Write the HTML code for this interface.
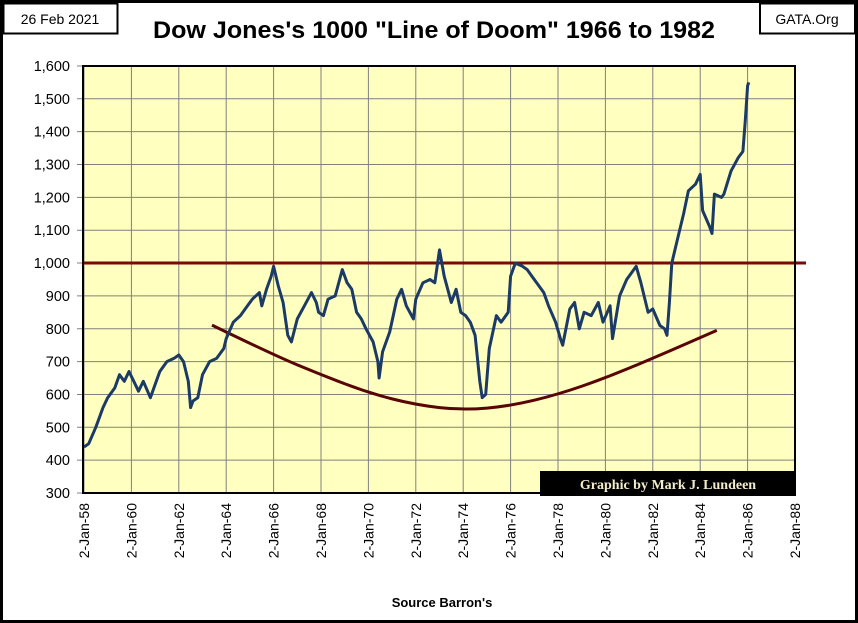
<!DOCTYPE html>
<html><head><meta charset="utf-8"><style>html,body{margin:0;padding:0;background:#fff}svg{display:block}</style></head>
<body>
<svg id="chart" width="858" height="623" xmlns="http://www.w3.org/2000/svg" font-family="Liberation Sans, sans-serif">
<rect x="1.5" y="1.5" width="855" height="620" fill="#fff" stroke="#000" stroke-width="3"/>
<rect x="83" y="66" width="712" height="427" fill="#ffffc0"/>
<g id="grid"></g>
<g id="ylabels" font-size="14.5" text-anchor="end" fill="#000"></g>
<g id="xlabels" font-size="14" fill="#000"></g>
<line x1="83" y1="263" x2="806" y2="263" stroke="#7a0a0a" stroke-width="3"/>
<path id="curve" fill="none" stroke="#5a0505" stroke-width="3"/>
<polyline id="dow" fill="none" stroke="#1b3a66" stroke-width="3" stroke-linejoin="round"/>
<rect x="83" y="66" width="712" height="427" fill="none" stroke="#000" stroke-width="2"/>
<rect x="540" y="471" width="256" height="25" fill="#000"/>
<text x="668" y="489" font-family="Liberation Serif, serif" font-weight="bold" font-size="14" fill="#f3eccb" text-anchor="middle">Graphic by Mark J. Lundeen</text>
<rect x="3.5" y="3.5" width="114" height="30" fill="#fff" stroke="#000" stroke-width="2"/>
<text x="60" y="24" font-size="14" text-anchor="middle">26 Feb 2021</text>
<rect x="760" y="3.5" width="95" height="30" fill="#fff" stroke="#000" stroke-width="2"/>
<text x="807" y="24" font-size="14" text-anchor="middle">GATA.Org</text>
<text x="434" y="38" font-size="24" font-weight="bold" text-anchor="middle" textLength="562" lengthAdjust="spacingAndGlyphs">Dow Jones's 1000 "Line of Doom" 1966 to 1982</text>
<text x="442" y="607" font-size="13" font-weight="bold" text-anchor="middle">Source Barron's</text>
</svg>
<script>
const yTicks=[300,400,500,600,700,800,900,1000,1100,1200,1300,1400,1500,1600];
const yTickLabels=["300","400","500","600","700","800","900","1,000","1,100","1,200","1,300","1,400","1,500","1,600"];
const xTicks=[1958,1960,1962,1964,1966,1968,1970,1972,1974,1976,1978,1980,1982,1984,1986,1988];
const xTickLabels=["2-Jan-58","2-Jan-60","2-Jan-62","2-Jan-64","2-Jan-66","2-Jan-68","2-Jan-70","2-Jan-72","2-Jan-74","2-Jan-76","2-Jan-78","2-Jan-80","2-Jan-82","2-Jan-84","2-Jan-86","2-Jan-88"];
const dowYears=[1958.0,1958.2,1958.5,1958.8,1959.0,1959.3,1959.5,1959.7,1959.9,1960.1,1960.3,1960.5,1960.8,1960.9,1961.2,1961.5,1961.8,1962.0,1962.2,1962.4,1962.5,1962.6,1962.8,1963.0,1963.3,1963.6,1963.9,1964.0,1964.3,1964.6,1964.9,1965.1,1965.4,1965.5,1965.7,1965.9,1966.0,1966.2,1966.4,1966.6,1966.75,1967.0,1967.3,1967.6,1967.8,1967.9,1968.1,1968.3,1968.6,1968.9,1969.1,1969.3,1969.5,1969.7,1969.9,1970.2,1970.4,1970.45,1970.6,1970.9,1971.2,1971.4,1971.6,1971.9,1972.0,1972.3,1972.6,1972.8,1973.0,1973.2,1973.5,1973.7,1973.9,1974.1,1974.3,1974.5,1974.7,1974.8,1974.95,1975.1,1975.4,1975.6,1975.9,1976.0,1976.2,1976.5,1976.7,1976.9,1977.2,1977.4,1977.6,1977.9,1978.1,1978.2,1978.5,1978.7,1978.9,1979.1,1979.4,1979.7,1979.9,1980.2,1980.3,1980.6,1980.9,1981.1,1981.3,1981.5,1981.8,1982.0,1982.3,1982.5,1982.6,1982.7,1982.8,1983.0,1983.3,1983.5,1983.8,1984.0,1984.1,1984.4,1984.5,1984.6,1984.9,1985.0,1985.3,1985.6,1985.8,1985.9,1986.0,1986.05];
const dowValues=[440,450,500,560,590,620,660,640,670,640,610,640,590,610,670,700,710,720,700,640,560,580,590,660,700,710,740,770,820,840,870,890,910,870,920,960,990,930,880,780,760,830,870,910,880,850,840,890,900,980,940,920,850,830,800,760,700,650,730,790,890,920,870,830,890,940,950,940,1040,960,880,920,850,840,820,780,640,590,600,740,840,820,850,960,1000,990,980,960,930,910,870,820,770,750,860,880,800,850,840,880,820,870,770,900,950,970,990,940,850,860,810,800,780,880,1000,1060,1150,1220,1240,1270,1160,1110,1090,1210,1200,1210,1280,1320,1340,1430,1540,1550];
const curveYears=[1963.4,1966,1968,1970,1972,1974,1976,1978,1980,1982,1984.7];
const curveValues=[811,720,660,605,568,552,565,600,650,710,795];
const NS='http://www.w3.org/2000/svg';
function xs(yr){return 84+(yr-1958)*23.7;}
function ys(v){return 493-(v-300)*32.85/100;}
const grid=document.getElementById('grid'),yl=document.getElementById('ylabels'),xl=document.getElementById('xlabels');
yTicks.forEach((v,i)=>{
  const l=document.createElementNS(NS,'line');
  l.setAttribute('x1',77);l.setAttribute('x2',795);l.setAttribute('y1',ys(v));l.setAttribute('y2',ys(v));
  l.setAttribute('stroke','#808080');l.setAttribute('stroke-width',1);
  
  
  grid.appendChild(l);
  const t=document.createElementNS(NS,'text');
  t.setAttribute('x',70);t.setAttribute('y',ys(v)+5);t.textContent=yTickLabels[i];
  
  
  yl.appendChild(t);
});
xTicks.forEach((yr,i)=>{
  const l=document.createElementNS(NS,'line');
  l.setAttribute('x1',xs(yr));l.setAttribute('x2',xs(yr));l.setAttribute('y1',66);l.setAttribute('y2',493);
  l.setAttribute('stroke','#808080');l.setAttribute('stroke-width',1);
  
  
  grid.appendChild(l);
  const t=document.createElementNS(NS,'text');
  const x=xs(yr)+5,y=503;
  t.setAttribute('x',x);t.setAttribute('y',y);t.setAttribute('text-anchor','end');
  t.setAttribute('transform','rotate(-90 '+x+' '+y+')');t.textContent=xTickLabels[i];
  
  
  xl.appendChild(t);
});
document.getElementById('dow').setAttribute('points',dowYears.map((yr,i)=>xs(yr).toFixed(1)+','+ys(dowValues[i]).toFixed(1)).join(' '));
const cp=curveYears.map((yr,i)=>[xs(yr),ys(curveValues[i])]);
let d='M'+cp[0][0]+','+cp[0][1];
for(let i=1;i<cp.length-1;i++){const mx=(cp[i][0]+cp[i+1][0])/2,my=(cp[i][1]+cp[i+1][1])/2;d+=' Q'+cp[i][0]+','+cp[i][1]+' '+mx+','+my;}
d+=' L'+cp[cp.length-1][0]+','+cp[cp.length-1][1];
document.getElementById('curve').setAttribute('d',d);
</script>
</body></html>
